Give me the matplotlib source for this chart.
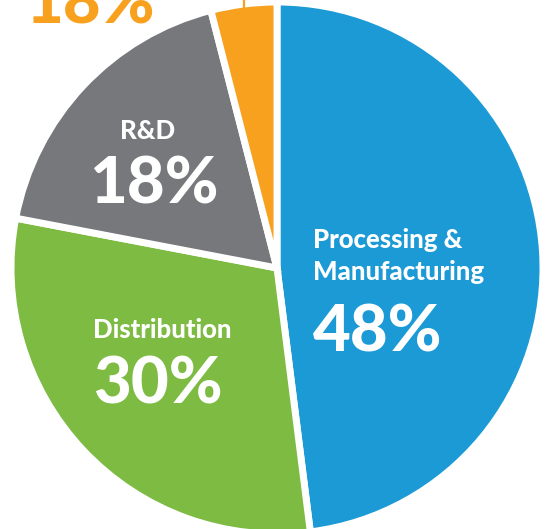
import matplotlib
matplotlib.use("Agg")
import matplotlib.pyplot as plt
import numpy as np

plt.rcParams['font.family'] = ['Lato', 'DejaVu Sans']

# slices, clockwise from 12 o'clock
labels = ["Processing &\nManufacturing", "Distribution", "R&D", ""]
shares = [48, 30, 18, 4]
colors = ["#1C9AD6", "#7DBB42", "#77787B", "#F7A11F"]

W, H = 548, 529
cx, cy, R = 277, 268, 266   # pie centre and radius in pixels

fig = plt.figure(figsize=(W / 100, H / 100), dpi=100)
ax = fig.add_axes([0, 0, 1, 1])
ax.axis("off")

wedges, _ = ax.pie(shares, colors=colors, startangle=90, counterclock=False,
                   radius=1, center=(0, 0),
                   wedgeprops=dict(edgecolor="white", linewidth=5))
ax.set_xlim(-cx / R, (W - cx) / R)
ax.set_ylim(-(H - cy) / R, cy / R)
ax.set_aspect("auto")


def px(x, y):
    return (x - cx) / R, (cy - y) / R


# leader line from the small orange slice
w = wedges[3]
mid = np.deg2rad((w.theta1 + w.theta2) / 2)
lx, ly = np.cos(mid) * 0.985, np.sin(mid) * 0.985
ax.plot([lx, lx], [ly, cy / R + 0.05], color=colors[3], lw=1.6, solid_capstyle="butt")

big = 47
small = 18.5
wt = 900

# top label (cut off by the frame)
ax.text(*px(25, 23), "18%", color=colors[3], fontsize=big, fontweight=wt,
        ha="left", va="baseline")

# R&D
ax.text(*px(148, 139), "R&D", color="white", fontsize=small, fontweight=wt,
        ha="center", va="baseline")
ax.text(*px(154, 204), "18%", color="white", fontsize=big, fontweight=wt,
        ha="center", va="baseline")

# processing
ax.text(*px(313, 248), "Processing &", color="white", fontsize=small,
        fontweight=wt, ha="left", va="baseline")
ax.text(*px(313, 280), "Manufacturing", color="white", fontsize=small,
        fontweight=wt, ha="left", va="baseline")
ax.text(*px(313, 352), "48%", color="white", fontsize=big, fontweight=wt,
        ha="left", va="baseline")

# distribution
ax.text(*px(93, 338), "Distribution", color="white", fontsize=small,
        fontweight=wt, ha="left", va="baseline")
ax.text(*px(93, 403), "30%", color="white", fontsize=big, fontweight=wt,
        ha="left", va="baseline")

fig.savefig("out.png", dpi=100)
